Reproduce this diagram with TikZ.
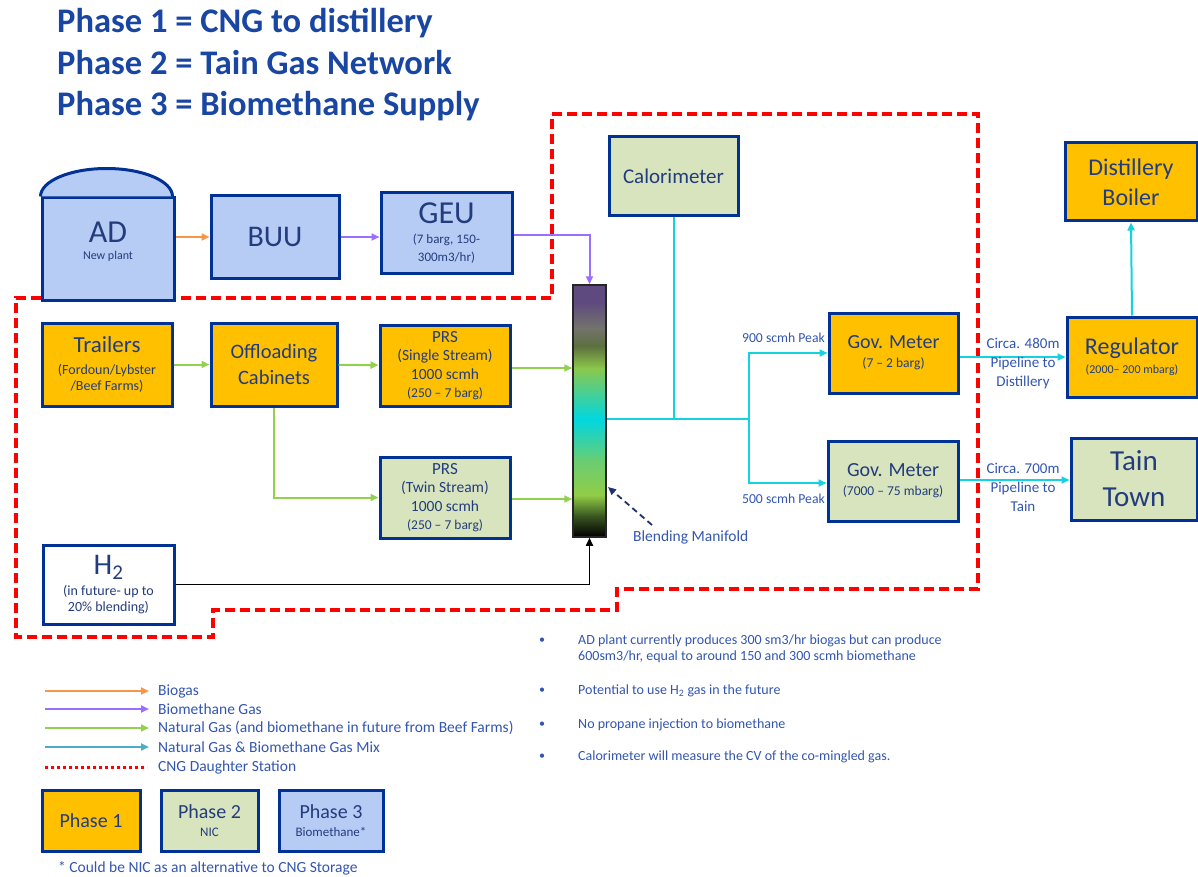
\documentclass[tikz,border=0pt]{standalone}
\usepackage{fontspec}
\setmainfont{Carlito}
\usetikzlibrary{arrows.meta,calc}
\definecolor{bdr}{RGB}{0,50,150}
\definecolor{boxtxt}{RGB}{35,60,125}
\definecolor{lbltxt}{RGB}{50,85,175}
\definecolor{ttl}{RGB}{25,70,162}
\definecolor{ph1}{RGB}{255,192,0}
\definecolor{ph2}{RGB}{215,228,189}
\definecolor{ph3}{RGB}{183,204,245}
\definecolor{cOrange}{RGB}{247,150,70}
\definecolor{cPurple}{RGB}{155,110,255}
\definecolor{cGreen}{RGB}{146,208,80}
\definecolor{cCyan}{RGB}{20,210,225}
\definecolor{cTeal}{RGB}{75,172,198}
\definecolor{cRed}{RGB}{255,0,0}
\definecolor{cNavy}{RGB}{30,50,110}
\definecolor{mA}{RGB}{94,74,126}
\definecolor{mB}{RGB}{115,115,108}
\definecolor{mC}{RGB}{92,112,62}
\definecolor{mD}{RGB}{140,200,75}
\definecolor{mE}{RGB}{0,215,225}
\definecolor{mF}{RGB}{105,205,115}
\definecolor{mG}{RGB}{145,205,70}
\definecolor{mH}{RGB}{60,90,35}
\newcommand{\fsz}[2]{\fontsize{#1}{#2}\selectfont}
\begin{document}
\begin{tikzpicture}[x=1pt,y=-1pt,
  box/.style={draw=bdr,line width=3pt,align=center,text=boxtxt,inner sep=1pt},
  ph1box/.style={box,fill=ph1},
  ph2box/.style={box,fill=ph2},
  ph3box/.style={box,fill=ph3},
  wbox/.style={box,fill=white},
  tip/.style={-{Triangle[length=8pt,width=7pt]}},
  bio/.style={tip,draw=cOrange,line width=2pt},
  biom/.style={tip,draw=cPurple,line width=2pt},
  ngas/.style={tip,draw=cGreen,line width=2pt},
  mix/.style={draw=cCyan,line width=2pt},
  mixarr/.style={mix,tip},
  cngline/.style={draw=cRed,line width=3.5pt,dash pattern=on 10pt off 5pt},
  lbl/.style={text=lbltxt,inner sep=0pt},
  ttlstyle/.style={text=ttl,inner sep=0pt,anchor=base west,font=\fsz{34.5}{40}\bfseries},
]
\useasboundingbox (0,0) rectangle (1198,877);

% titles
\node[ttlstyle] (t1) at (57,33) {Phase 1 = CNG to distillery};
\node[ttlstyle] (t2) at (57,75) {Phase 2 = Tain Gas Network};
\node[ttlstyle] (t3) at (57,116) {Phase 3 = Biomethane Supply};

% CNG daughter station boundary
\draw[cngline] (552,114) -- (978,114) -- (978,589) -- (617,589) -- (617,610) -- (213,610) -- (213,637) -- (16,637) -- (16,298) -- (552,298) -- cycle;

% blending manifold gradient
\shade[top color=mA,bottom color=mA] (573,285) rectangle (606,302.5);
\shade[top color=mA,bottom color=mB] (573,302) rectangle (606,328.5);
\shade[top color=mB,bottom color=mC] (573,328) rectangle (606,346.5);
\shade[top color=mC,bottom color=mD] (573,346) rectangle (606,368.5);
\shade[top color=mD,bottom color=mE] (573,368) rectangle (606,419.5);
\shade[top color=mE,bottom color=mF] (573,419) rectangle (606,460.5);
\shade[top color=mF,bottom color=mG] (573,460) rectangle (606,495.5);
\shade[top color=mG,bottom color=mH] (573,495) rectangle (606,515.5);
\shade[top color=mH,bottom color=black] (573,515) rectangle (606,537);
\node[draw=black!85,line width=1.5pt,minimum width=33pt,minimum height=252pt,inner sep=0pt] (man) at (589.5,411) {};

% top row (phase 3)
\node[ph3box,minimum width=132pt,minimum height=102pt] (ad) at (108,249) {};
\draw[draw=bdr,line width=3pt,fill=ph3] (ad.north west) arc[start angle=180,end angle=360,x radius=66,y radius=28];
\node[text=boxtxt,align=center,inner sep=0pt,font=\fsz{12}{17}] (adtxt) at (108,242) {{\fsz{32}{34}AD}\\New plant};
\node[ph3box,minimum width=128pt,minimum height=82pt,font=\fsz{30}{34}] (buu) at (275,237) {BUU};
\node[ph3box,minimum width=131pt,minimum height=80pt,font=\fsz{13}{18}] (geu) at (446.5,233) {{\fsz{32}{34}GEU}\\[2pt](7 barg, 150-\\300m3/hr)};

% phase 1 / 2 middle row
\node[ph1box,minimum width=130pt,minimum height=83pt,font=\fsz{14}{16}] (trl) at (107,364.5) {{\fsz{23}{26}Trailers}\\[6pt](Fordoun/Lybster\\/Beef Farms)};
\node[ph1box,minimum width=126pt,minimum height=83pt,font=\fsz{20.5}{26}] (off) at (274,364.5) {Offloading\\Cabinets};
\node[ph1box,minimum width=130pt,minimum height=81pt,font=\fsz{15.5}{18.5}] (prsa) at (445,365.5) {{\fsz{17}{19}PRS}\\(Single Stream)\\1000 scmh\\{\fsz{13.5}{16}(250 – 7 barg)}};
\node[ph2box,minimum width=130pt,minimum height=81pt,font=\fsz{15.5}{18.5}] (prsb) at (445,497.5) {{\fsz{17}{19}PRS}\\(Twin Stream)\\1000 scmh\\{\fsz{13.5}{16}(250 – 7 barg)}};
\node[wbox,minimum width=131pt,minimum height=79pt,font=\fsz{14}{16}] (h2) at (108.5,584.5) {{\fsz{30}{32}H\textsubscript{2}}\\[5pt](in future- up to\\20\% blending)};

% right part
\node[ph2box,minimum width=129pt,minimum height=79pt,font=\fsz{21}{24}] (cal) at (673.5,176.5) {Calorimeter};
\node[ph1box,minimum width=129pt,minimum height=80pt,font=\fsz{13.5}{19}] (gma) at (893.5,353) {{\fsz{20}{22}Gov. Meter}\\(7 – 2 barg)};
\node[ph2box,minimum width=130pt,minimum height=80pt,font=\fsz{13.5}{19}] (gmb) at (893,481) {{\fsz{20}{22}Gov. Meter}\\(7000 – 75 mbarg)};
\node[ph1box,minimum width=130pt,minimum height=80pt,font=\fsz{12}{19}] (reg) at (1132,357) {{\fsz{24}{26}Regulator}\\(2000– 200 mbarg)};
\node[ph1box,minimum width=132pt,minimum height=78pt,font=\fsz{24}{30}] (boil) at (1131,182) {Distillery\\Boiler};
\node[ph2box,minimum width=126pt,minimum height=82pt,font=\fsz{29}{36}] (tain) at (1134,479) {Tain\\Town};

% connectors
\draw[bio] (ad.east |- buu.west) -- (buu.west);
\draw[biom] (buu.east) -- (buu.east -| geu.west);
\draw[biom] (geu.east |- 0,235) -| (man.north);
\draw[ngas] (trl) -- (off);
\draw[ngas] (off) -- (prsa);
\draw[ngas] (prsa.east |- 0,368) -- (man.west |- 0,368);
\draw[ngas] (off.south) |- (prsb.west);
\draw[ngas] (prsb.east |- 0,499) -- (man.west |- 0,499);
\draw[black,line width=1.6pt,tip] (h2.east) -| (man.south);

\coordinate (split) at (749,419);
\draw[mix] (man.east |- split) -- (split);
\draw[mix] (cal.south) -- (cal.south |- split);
\draw[mixarr] (split) |- (gma.west);
\draw[mixarr] (split) |- (gmb.west |- 0,483);
\draw[mixarr] (gma.east |- reg.west) -- (reg.west);
\draw[mixarr] (gmb.east |- 0,480) -- (tain.west |- 0,480);
\draw[mixarr] (reg.north) -- (boil.south);

% labels
\node[lbl,anchor=east,font=\fsz{13.7}{16}] (pk9) at (825,338) {900 scmh Peak};
\node[lbl,anchor=east,font=\fsz{13.7}{16}] (pk5) at (825,499) {500 scmh Peak};
\node[lbl,align=center,font=\fsz{15}{19}] (pipa) at (1023,364) {Circa. 480m\\Pipeline to\\Distillery};
\node[lbl,align=center,font=\fsz{15}{19}] (pipb) at (1023,487) {Circa. 700m\\Pipeline to\\Tain};
\node[lbl,anchor=west,font=\fsz{15.5}{18}] (bmtxt) at (633,537) {Blending Manifold};
\coordinate (bmtail) at (652,525);
\coordinate (bmtip) at (608,487);
\draw[draw=cNavy,line width=1.8pt,dash pattern=on 6pt off 4pt,tip] (bmtail) -- (bmtip);

% notes
\node[lbl,font=\fsz{12}{16}] (b1) at (542,641) {•};
\node[lbl,anchor=west,align=left,font=\fsz{14}{16}] (n1) at (578,649) {AD plant currently produces 300 sm3/hr biogas but can produce\\600sm3/hr, equal to around 150 and 300 scmh biomethane};
\node[lbl,font=\fsz{12}{16}] (b2) at (542,691) {•};
\node[lbl,anchor=west,font=\fsz{14}{16}] (n2) at (578,691) {Potential to use H\textsubscript{2} gas in the future};
\node[lbl,font=\fsz{12}{16}] (b3) at (542,725) {•};
\node[lbl,anchor=west,font=\fsz{14}{16}] (n3) at (578,725) {No propane injection to biomethane};
\node[lbl,font=\fsz{12}{16}] (b4) at (542,757) {•};
\node[lbl,anchor=west,font=\fsz{14}{16}] (n4) at (578,757) {Calorimeter will measure the CV of the co-mingled gas.};

% legend
\node[lbl,anchor=west,font=\fsz{15.5}{18}] (lg1) at (158,691) {Biogas};
\node[lbl,anchor=west,font=\fsz{15.5}{18}] (lg2) at (158,709) {Biomethane Gas};
\node[lbl,anchor=west,font=\fsz{15.5}{18}] (lg3) at (158,728) {Natural Gas (and biomethane in future from Beef Farms)};
\node[lbl,anchor=west,font=\fsz{15.5}{18}] (lg4) at (158,747) {Natural Gas \& Biomethane Gas Mix};
\node[lbl,anchor=west,font=\fsz{15.5}{18}] (lg5) at (158,767) {CNG Daughter Station};
\coordinate (ls1) at (45,691);
\coordinate (ls2) at (45,709);
\coordinate (ls3) at (45,728);
\coordinate (ls4) at (45,747);
\coordinate (ls5) at (45,767);
\draw[bio] (ls1) -- (ls1 -| 149,0);
\draw[biom] (ls2) -- (ls2 -| 149,0);
\draw[ngas] (ls3) -- (ls3 -| 149,0);
\draw[tip,draw=cTeal,line width=2pt] (ls4) -- (ls4 -| 149,0);
\draw[draw=cRed,line width=3pt,dash pattern=on 3pt off 3pt] (ls5) -- (ls5 -| 147,0);

\node[ph1box,minimum width=98pt,minimum height=61pt,font=\fsz{20}{22}] (lp1) at (91,820.5) {Phase 1};
\node[ph2box,minimum width=97pt,minimum height=61pt,font=\fsz{13}{18}] (lp2) at (209.5,820.5) {{\fsz{20}{22}Phase 2}\\NIC};
\node[ph3box,minimum width=104pt,minimum height=61pt,font=\fsz{13}{18}] (lp3) at (331,820.5) {{\fsz{20}{22}Phase 3}\\Biomethane*};
\node[lbl,anchor=west,font=\fsz{15.5}{18}] (fn) at (58,868) {* Could be NIC as an alternative to CNG Storage};
\end{tikzpicture}
\end{document}
